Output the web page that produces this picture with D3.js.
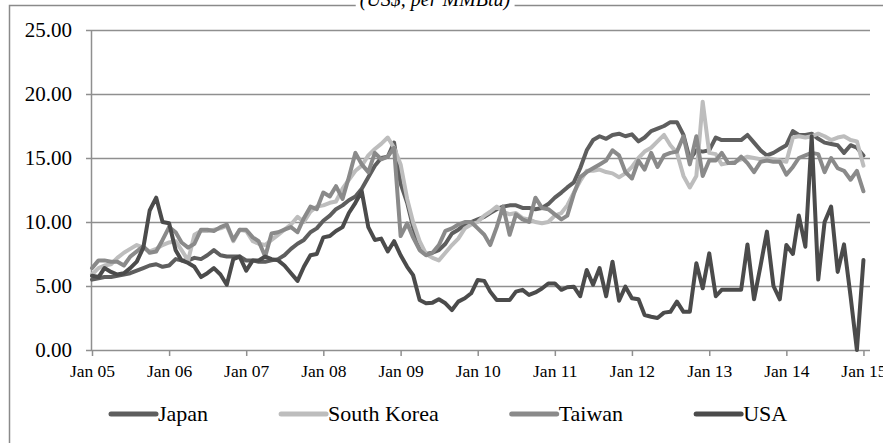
<!DOCTYPE html>
<html>
<head>
<meta charset="utf-8">
<script src="https://cdn.jsdelivr.net/npm/d3@7"></script>
<style>
    body { margin: 0; background: #fff; }
    svg { display: block; font-family: "Liberation Serif", "Times New Roman", serif; }
</style>
</head>
<body>
<div id="chart-area"></div>
<script>
// Monthly prices, Jan 2005 - Jan 2015 (US$ per MMBtu)
const japan = [
    5.5, 5.6, 5.7, 5.7, 5.8, 5.9, 6.0, 6.2, 6.4, 6.6, 6.7, 6.5,
    6.6, 7.1, 7.0, 7.0, 7.2, 7.1, 7.4, 7.8, 7.4, 7.3, 7.3, 7.3,
    7.0, 7.0, 6.9, 6.9, 7.0, 7.1, 7.4, 7.9, 8.3, 8.6, 9.2, 9.5,
    10.1, 10.5, 11.0, 11.3, 11.7, 12.0, 12.6, 13.5, 14.4, 15.0, 15.1, 16.2,
    13.0, 11.5, 9.6, 8.0, 7.5, 7.6, 7.8, 8.3, 9.1, 9.4, 9.8, 10.0,
    10.2, 10.4, 10.7, 11.0, 11.2, 11.3, 11.3, 11.1, 11.1, 11.0, 11.1, 11.4,
    11.9, 12.3, 12.7, 13.1, 14.2, 15.6, 16.4, 16.7, 16.5, 16.8, 16.9, 16.7,
    16.85, 16.3, 16.6, 17.1, 17.3, 17.5, 17.8, 17.8, 16.8, 14.9, 15.6, 15.5,
    15.6, 16.6, 16.4, 16.4, 16.4, 16.4, 16.8, 16.2, 15.6, 15.2, 15.4, 15.7,
    16.0, 17.1, 16.8, 16.8, 16.9, 16.5, 16.2, 16.1, 16.0, 15.4, 16.0, 15.8,
    15.2
];
const southKorea = [
    5.9, 6.4, 6.6, 6.7, 7.2, 7.6, 7.9, 8.2, 8.0, 7.7, 7.9, 8.2,
    8.4, 8.5, 7.8, 7.0, 9.0, 9.3, 9.3, 9.4, 9.5, 9.7, 8.5, 9.4,
    9.3, 8.5, 8.3, 8.2, 8.6, 9.0, 9.4, 9.8, 10.4, 10.0, 10.8, 11.2,
    11.3, 11.5, 11.6, 12.6, 13.3, 14.0, 14.4, 15.2, 15.7, 16.1, 16.6, 15.8,
    14.5, 11.8, 10.0, 8.5, 7.5, 7.2, 7.0, 7.6, 8.2, 8.7, 9.5, 9.8,
    10.0, 10.5, 10.8, 11.2, 10.8, 10.6, 10.7, 10.3, 10.2, 10.0, 9.9, 10.0,
    10.5, 10.7, 11.3, 12.3, 13.2, 14.0, 14.0, 14.1, 13.9, 13.8, 13.5, 13.8,
    14.3, 15.0, 15.5, 15.8, 16.3, 16.8, 16.0, 15.4, 13.6, 12.7, 13.6, 19.4,
    15.4, 15.3, 14.5, 14.6, 14.7, 14.9, 15.1, 15.0, 14.9, 15.0, 14.9, 14.8,
    14.7, 16.6, 16.7, 16.6, 16.7, 16.9, 16.7, 16.4, 16.6, 16.7, 16.4, 16.3,
    14.4
];
const taiwan = [
    6.4, 7.0, 7.0, 6.9, 6.9, 6.6, 7.3, 7.7, 8.1, 7.6, 7.7, 8.6,
    9.6, 9.2, 8.4, 8.0, 8.3, 9.4, 9.4, 9.3, 9.6, 9.8, 8.6, 9.4,
    9.4, 8.8, 8.5, 7.3, 9.1, 9.2, 9.4, 9.6, 9.2, 10.3, 11.2, 11.0,
    12.3, 12.0, 12.8, 11.8, 13.5, 15.4, 14.5, 13.9, 15.4, 14.9, 15.1, 15.8,
    8.9, 9.9, 8.8, 7.8, 7.4, 7.6, 8.2, 9.3, 9.5, 9.8, 10.0, 10.0,
    9.5, 9.0, 8.2, 9.6, 11.2, 9.0, 10.6, 10.2, 10.0, 11.9, 11.1, 11.0,
    10.6, 10.2, 10.5, 12.2, 13.5, 13.9, 14.2, 14.5, 14.8, 15.6, 15.2, 13.9,
    13.4, 14.8, 14.1, 15.4, 14.3, 15.2, 15.4, 15.5, 16.7, 14.5, 16.7, 13.6,
    14.8, 14.8, 15.4, 14.6, 14.6, 15.1, 14.6, 13.9, 14.7, 14.8, 14.7, 14.7,
    13.7, 14.3, 15.0, 15.2, 15.4, 15.3, 13.9, 15.0, 14.2, 14.0, 13.3, 14.0,
    12.4
];
const usa = [
    5.8, 5.7, 6.4, 6.1, 5.9, 6.0, 6.4, 6.9, 8.0, 10.9, 11.9, 10.0,
    9.9, 7.8, 7.0, 6.8, 6.5, 5.7, 6.0, 6.4, 5.9, 5.1, 7.1, 7.3,
    6.2, 7.0, 7.0, 7.3, 7.1, 7.0, 6.6, 6.0, 5.4, 6.5, 7.4, 7.5,
    8.8, 8.9, 9.3, 9.6, 10.7, 11.5, 12.4, 9.6, 8.6, 8.7, 7.7, 8.5,
    7.4, 6.5, 5.85, 3.9, 3.65, 3.7, 3.96, 3.65, 3.12, 3.78, 4.04, 4.43,
    5.47, 5.4, 4.56, 3.9, 3.9, 3.9, 4.56, 4.7, 4.3, 4.5, 4.8, 5.2,
    5.2, 4.7, 4.9, 4.95, 4.2, 6.25, 5.1, 6.4, 4.2, 6.9, 3.85, 4.95,
    4.05, 3.96, 2.73, 2.6, 2.5, 2.92, 2.98, 3.78, 2.98, 2.98, 6.77, 4.82,
    7.55, 4.2, 4.7, 4.7, 4.7, 4.7, 8.25, 3.96, 6.6, 9.25, 5.0, 3.96,
    8.2, 7.5, 10.5, 8.07, 16.7, 5.5, 10.0, 11.2, 6.1, 8.25, 4.2, 0.0,
    7.03
];

const seriesNames = ["Japan", "South Korea", "Taiwan", "USA"];
const seriesValues = [japan, southKorea, taiwan, usa];
const seriesColors = ["#5e5e5e", "#bdbdbd", "#8a8a8a", "#4b4b4b"];
const yTicks = [0, 5, 10, 15, 20, 25];
const titleText = "(US$, per MMBtu)";

const width = 883;
const height = 443;

const startMonth = new Date(2005, 0, 1);
const endMonth = new Date(2015, 1, 1);
const months = d3.timeMonth.range(startMonth, endMonth); // Jan 05 .. Jan 15

const svg = d3.select("#chart-area")
    .append("svg")
    .attr("width", width)
    .attr("height", height);

// Marco del gráfico
svg.append("path")
    .attr("d", "M9.5,460V5.5H900")
    .attr("fill", "none")
    .attr("stroke", "#8a8a8a")
    .attr("stroke-width", 1.5);

// Título (recortado arriba)
const title = svg.append("text")
    .attr("x", 435)
    .attr("y", 6)
    .attr("text-anchor", "middle")
    .attr("font-size", "20px")
    .attr("font-style", "italic")
    .text(titleText);
const tb = title.node().getBBox();
svg.insert("rect", "text")
    .attr("x", tb.x - 4).attr("y", 0)
    .attr("width", tb.width + 8).attr("height", 10)
    .attr("fill", "#fff");

// Escalas
const x = d3.scaleTime()
    .domain([startMonth, endMonth])
    .range([92, 870]);

const y = d3.scaleLinear()
    .domain([0, 25])
    .range([350, 30]);

// Eje Y con rejilla
const leftAxis = d3.axisLeft(y)
    .tickValues(yTicks)
    .tickFormat(d3.format(".2f"))
    .tickSize(-(870 - 92))
    .tickPadding(20);

const yAxis = svg.append("g")
    .attr("class", "left axis")
    .attr("transform", "translate(92, 0)")
    .call(leftAxis);
yAxis.select(".domain").remove();
yAxis.selectAll(".tick line")
    .attr("x1", -6)
    .attr("stroke", "#8f8f8f")
    .attr("stroke-width", 1.5);
yAxis.selectAll("text")
    .attr("font-size", "21px")
    .attr("font-family", "Liberation Serif, serif")
    .attr("fill", "#000");

// Línea vertical del eje
svg.append("line")
    .attr("x1", 91.5).attr("x2", 91.5)
    .attr("y1", y(25)).attr("y2", y(0))
    .attr("stroke", "#8f8f8f")
    .attr("stroke-width", 1.5);

// Eje X
const bottomAxis = d3.axisBottom(x)
    .ticks(d3.timeYear.every(1))
    .tickFormat(d3.timeFormat("%b %y"))
    .tickSize(6)
    .tickSizeOuter(0)
    .tickPadding(9);

const xAxis = svg.append("g")
    .attr("class", "bottom axis")
    .attr("transform", `translate(0, ${y(0)})`)
    .call(bottomAxis);
xAxis.select(".domain").remove();
xAxis.selectAll(".tick line")
    .attr("stroke", "#8f8f8f")
    .attr("stroke-width", 1.5);
xAxis.selectAll("text")
    .attr("font-size", "17.5px")
    .attr("font-family", "Liberation Serif, serif")
    .attr("fill", "#000");

// Líneas de las series
const line = d3.line()
    .x((d, i) => x(months[i]))
    .y(d => y(d));

svg.append("g")
    .selectAll("path")
    .data(seriesValues)
    .enter()
    .append("path")
    .attr("d", d => line(d))
    .attr("fill", "none")
    .attr("stroke", (d, i) => seriesColors[i])
    .attr("stroke-width", 4)
    .attr("stroke-linejoin", "round")
    .attr("stroke-linecap", "round");

// Leyenda
let lx = 111;
const ly = 414;
seriesNames.forEach((name, i) => {
    svg.append("line")
        .attr("x1", lx).attr("x2", lx + 45)
        .attr("y1", ly).attr("y2", ly)
        .attr("stroke", seriesColors[i])
        .attr("stroke-width", 5)
        .attr("stroke-linecap", "round");
    const t = svg.append("text")
        .attr("x", lx + 47)
        .attr("y", ly + 7)
        .attr("font-size", "22px")
        .attr("fill", "#000")
        .text(name);
    lx = lx + 47 + t.node().getComputedTextLength() + 73;
});
</script>
</body>
</html>
